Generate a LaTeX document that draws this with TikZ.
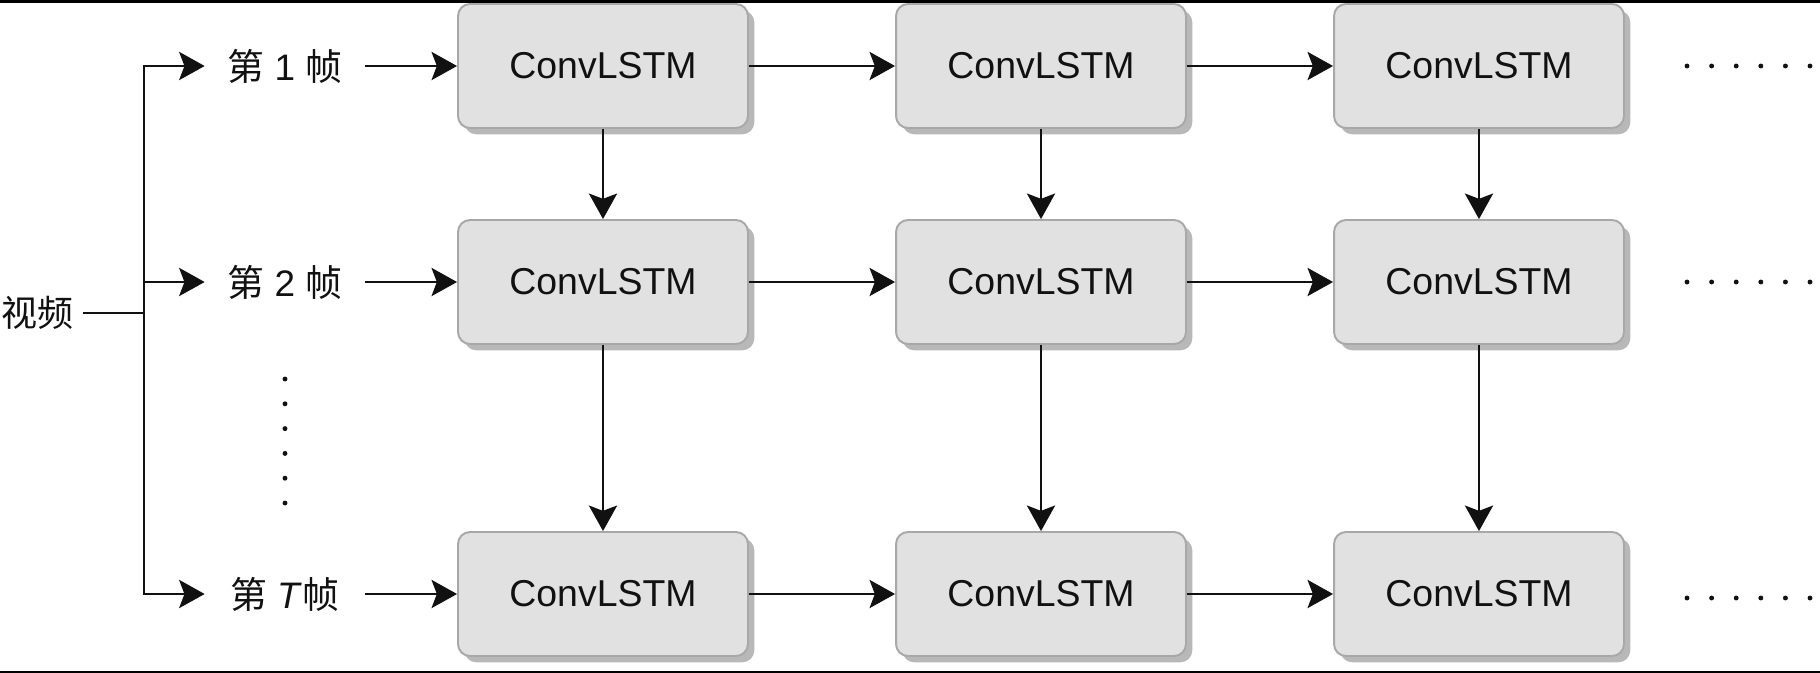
\documentclass[tikz,border=0pt]{standalone}
\usepackage{fontspec}
\setmainfont{Liberation Sans}
\newfontfamily\cjk{Noto Sans CJK SC}
\usetikzlibrary{arrows.meta,shadows}
\definecolor{boxfill}{HTML}{E1E1E1}
\definecolor{boxline}{HTML}{A8A8A8}
\definecolor{shade}{HTML}{B8B8B8}
\definecolor{ink}{HTML}{111111}
\begin{document}
\begin{tikzpicture}[x=0.02cm,y=-0.02cm,
  cell/.style={draw=boxline, fill=boxfill, line width=1.1pt, rounded corners=6.8pt,
    minimum width=5.8cm, minimum height=2.48cm, inner sep=0pt, text=ink,
    font=\fontsize{21.3}{24}\selectfont,
    drop shadow={shadow xshift=3.6pt, shadow yshift=-3.6pt, fill=shade, opacity=1}},
  framelbl/.style={minimum width=3.2cm, inner sep=0pt, text=ink,
    font=\fontsize{21}{24}\selectfont},
  arr/.style={line width=1.5pt, draw=ink, -{Stealth[length=14.5pt, width=16pt, inset=3pt]}},
  ln/.style={line width=1.5pt, draw=ink},
  dotmark/.style={circle, fill=ink, inner sep=0pt, minimum size=2.8pt}]
\useasboundingbox (0,0) rectangle (1820,673);
\fill[white] (0,0) rectangle (1820,673);
\fill[black] (0,0) rectangle (1820,3);
\fill[black] (0,671) rectangle (1820,673);

% video node
\node[anchor=east, inner xsep=0.18cm, inner ysep=0pt, text=ink,
  font=\cjk\fontsize{20.5}{24}\selectfont] (v) at (83,313) {视频};

% frame labels
\node[framelbl] (f1) at (285,66) {{\cjk 第} 1 {\cjk 帧}};
\node[framelbl] (f2) at (285,282) {{\cjk 第} 2 {\cjk 帧}};
\node[framelbl] (fT) at (285,594) {{\cjk 第} \textit{T}{\cjk 帧}};

% boxes
\foreach \r/\y in {1/66,2/282,3/594}{
  \foreach \c/\x in {1/603,2/1041,3/1479}{
    \node[cell] (c\r\c) at (\x,\y) {ConvLSTM};
  }
}

% branch
\coordinate (bv) at (144,313);
\draw[ln] (v.east) -- (bv);
\draw[arr] (bv) |- (f1.west);
\draw[arr] (bv) |- (f2.west);
\draw[arr] (bv) |- (fT.west);

% label to box
\draw[arr] (f1.east) -- (c11.west);
\draw[arr] (f2.east) -- (c21.west);
\draw[arr] (fT.east) -- (c31.west);

% horizontal
\foreach \r in {1,2,3}{
  \draw[arr] (c\r1.east) -- (c\r2.west);
  \draw[arr] (c\r2.east) -- (c\r3.west);
}
% vertical
\foreach \c in {1,2,3}{
  \draw[arr] (c1\c.south) -- (c2\c.north);
  \draw[arr] (c2\c.south) -- (c3\c.north);
}

% dots
\foreach \y in {66,282,598}{
  \foreach \k in {0,...,5}{
    \node[dotmark] at (1687+24.6*\k,\y) {};
  }
}
\foreach \k in {0,...,5}{
  \node[dotmark] at (285,379+24.8*\k) {};
}
\end{tikzpicture}
\end{document}
